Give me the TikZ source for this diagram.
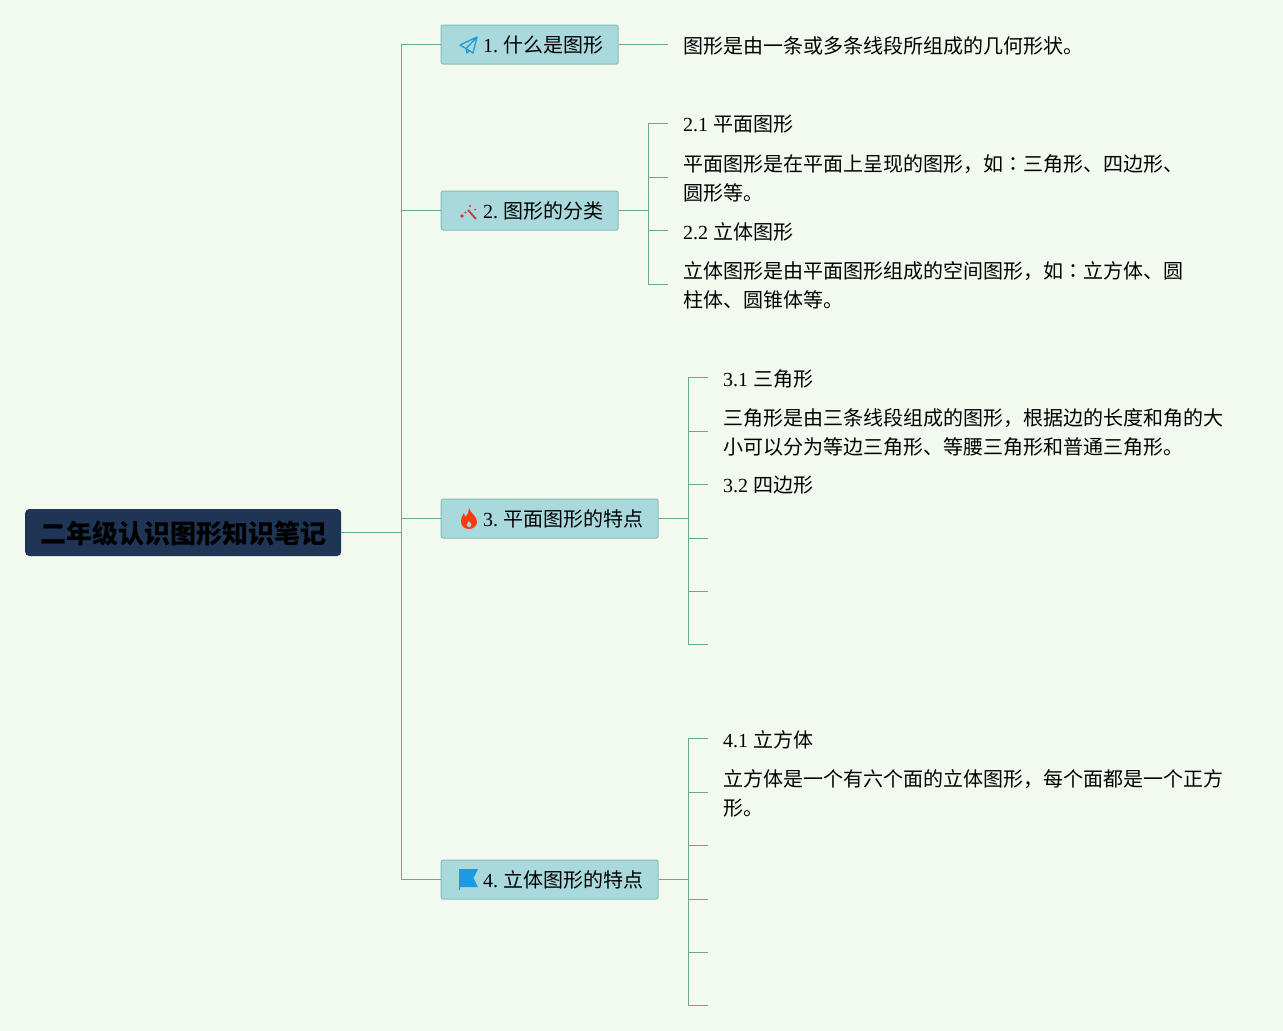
\documentclass[tikz,border=0pt]{standalone}
\usepackage{fontspec}
\setmainfont{Liberation Serif}
\newfontfamily\cjk{Noto Sans CJK SC}
\newfontfamily\cjkcolon{Noto Sans CJK JP}
\newcommand{\topiclabel}[2]{\hspace{27pt}#1.\hspace{5pt}{\cjk #2}}
\definecolor{pagebg}{HTML}{F2FAF0}
\definecolor{rootfill}{HTML}{1F3556}
\definecolor{topicfill}{HTML}{A9D9DC}
\definecolor{topicline}{HTML}{86BDB5}
\definecolor{linkline}{HTML}{6BA595}
\definecolor{iconblue}{HTML}{1C9BE0}
\definecolor{iconred}{HTML}{D9362B}
\definecolor{iconfire}{HTML}{FF3A12}
\begin{document}
\begin{tikzpicture}[x=1pt,y=-1pt,
    root/.style={fill=rootfill,rounded corners=4pt,inner sep=0pt,minimum width=316pt,minimum height=47pt,text height=23pt,text depth=1.6pt,font=\fontsize{26}{30}\cjk\bfseries},
    topic/.style={draw=topicline,fill=topicfill,line width=1pt,rounded corners=2pt,inner xsep=15pt,inner ysep=0pt,minimum height=39pt,text height=17pt,text depth=1pt,font=\fontsize{20}{24}\selectfont},
    leaf/.style={align=left,inner sep=0pt,yshift=-0.5pt,font=\fontsize{20}{29}\selectfont},
    link/.style={draw=linkline,line width=1pt}]
    \fill[pagebg] (0,0) rectangle (1283,1031);
    \useasboundingbox (0,0) rectangle (1283,1031);
    \node (root) [root,anchor=west] at (25,532.5) {二年级认识图形知识笔记};
    \node (t1) [topic,anchor=west] at (440.7,44.5) {\topiclabel{1}{什么是图形}};
    \node (t2) [topic,anchor=west] at (440.7,210.5) {\topiclabel{2}{图形的分类}};
    \node (t3) [topic,anchor=west] at (440.7,518.5) {\topiclabel{3}{平面图形的特点}};
    \node (t4) [topic,anchor=west] at (440.7,879.5) {\topiclabel{4}{立体图形的特点}};
    \node (a1) [leaf,anchor=west] at (683,45) {\cjk 图形是由一条或多条线段所组成的几何形状。};
    \node (a2) [leaf,anchor=west] at (683,124) {2.1 {\cjk 平面图形}};
    \node (a3) [leaf,anchor=west] at (683,177.5) {\cjk 平面图形是在平面上呈现的图形，如{\cjkcolon ：}三角形、四边形、\\\cjk 圆形等。};
    \node (a4) [leaf,anchor=west] at (683,231) {2.2 {\cjk 立体图形}};
    \node (a5) [leaf,anchor=west] at (683,284.5) {\cjk 立体图形是由平面图形组成的空间图形，如{\cjkcolon ：}立方体、圆\\\cjk 柱体、圆锥体等。};
    \node (b1) [leaf,anchor=west] at (723,378) {3.1 {\cjk 三角形}};
    \node (b2) [leaf,anchor=west] at (723,431.5) {\cjk 三角形是由三条线段组成的图形，根据边的长度和角的大\\\cjk 小可以分为等边三角形、等腰三角形和普通三角形。};
    \node (b3) [leaf,anchor=west] at (723,485) {3.2 {\cjk 四边形}};
    \node (c1) [leaf,anchor=west] at (723,739) {4.1 {\cjk 立方体}};
    \node (c2) [leaf,anchor=west] at (723,792.5) {\cjk 立方体是一个有六个面的立体图形，每个面都是一个正方\\\cjk 形。};
    % free ends of the branches
    \coordinate (e1) at (668,44.5);
    \foreach \n/\y in {1/123.5,2/177.5,3/230.5,4/284.5} \coordinate (f\n) at (668,\y);
    \foreach \n/\y in {1/377.5,2/431.5,3/484.5,4/538.5,5/591.5,6/644.5} \coordinate (g\n) at (708,\y);
    \foreach \n/\y in {1/738.5,2/792.5,3/845.5,4/899.5,5/952.5,6/1005.5} \coordinate (h\n) at (708,\y);
    \foreach \n in {t1,t2,t3,t4} \draw[link] (root.east) -- (401,532.5) |- (\n.west);
    \draw[link] (t1.east) -- (e1);
    \foreach \n in {1,2,3,4} \draw[link] (t2.east) -| (648,210.5) |- (f\n);
    \foreach \n in {1,...,6} \draw[link] (t3.east) -| (688,518.5) |- (g\n);
    \foreach \n in {1,...,6} \draw[link] (t4.east) -| (688,879.5) |- (h\n);
    % icons
    \draw[iconblue,line width=1.3pt,line join=round] (477,37) -- (460,45) -- (466,48.5) -- (477,37) -- (473,53) -- (466,48.5) -- (467,53) -- (469.5,50.5);
    \draw[iconred,line width=1.8pt] (468,210) -- (476,219);
    \fill[iconred] (462,216) circle (1.8) (465.5,212.5) circle (1.1) (470,206) circle (1.2) (475,209.5) circle (1);
    \fill[iconfire,even odd rule] (469,508) .. controls (470,513) and (477,516) .. (477,522) .. controls (477,526) and (473,529) .. (469,529) .. controls (464,529) and (461,526) .. (461,521) .. controls (461,518) and (462,516) .. (464,513) .. controls (464,515) and (465,516) .. (466,516.5) .. controls (468,514) and (469,511) .. (469,508) -- cycle
      (469,521) .. controls (470.5,522.5) and (472,524) .. (471.5,525.5) .. controls (471,527.5) and (467,527.5) .. (466.5,525.5) .. controls (466,524) and (468,523) .. (469,521) -- cycle;
    \fill[iconblue] (459,869) -- (478,869) -- (473.5,878) -- (478,887) -- (460,887) -- (460,890) -- (459,890) -- cycle;
\end{tikzpicture}
\end{document}
